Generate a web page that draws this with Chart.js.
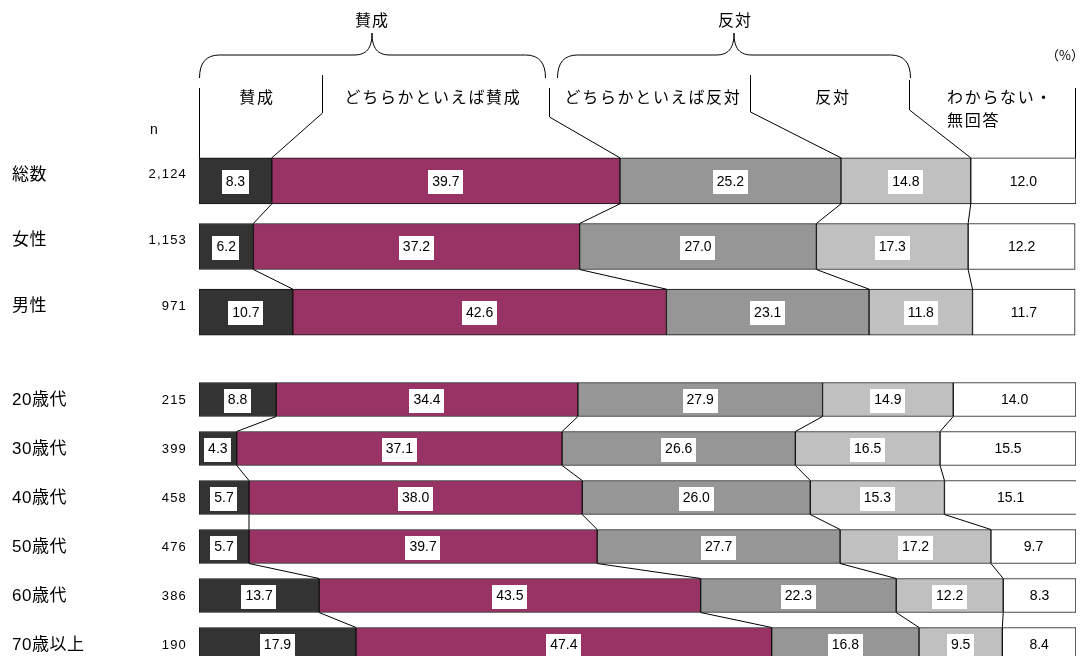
<!DOCTYPE html>
<html lang="ja">
<head>
<meta charset="utf-8">
<script src="https://cdn.jsdelivr.net/npm/chart.js@4.4.0/dist/chart.umd.min.js"></script>
<style>
  html, body { margin: 0; padding: 0; background: #fff; overflow: hidden; }
  #wrap { position: relative; width: 1085px; height: 656px; }
  #topBox { position: absolute; left: 0; top: 0; width: 1085px; height: 350px; }
  #ageBox { position: absolute; left: 0; top: 360px; width: 1085px; height: 310px; }
</style>
</head>
<body>
<div id="wrap">
  <div id="topBox"><canvas id="topChart"></canvas></div>
  <div id="ageBox"><canvas id="ageChart"></canvas></div>
</div>
<script>
// 系列
const seriesNames = ['賛成', 'どちらかといえば賛成', 'どちらかといえば反対', '反対', 'わからない・無回答'];
const seriesColors = ['#333333', '#993366', '#969696', '#c0c0c0', '#ffffff'];
const groupNames = ['賛成', '反対'];

// 総数・性別
const topCategories = ['総数', '女性', '男性'];
const topCounts = ['2,124', '1,153', '971'];
const topAgree = [8.3, 6.2, 10.7];
const topRatherAgree = [39.7, 37.2, 42.6];
const topRatherOppose = [25.2, 27.0, 23.1];
const topOppose = [14.8, 17.3, 11.8];
const topUnknown = [12.0, 12.2, 11.7];

// 年代別
const ageCategories = ['20歳代', '30歳代', '40歳代', '50歳代', '60歳代', '70歳以上'];
const ageCounts = ['215', '399', '458', '476', '386', '190'];
const ageAgree = [8.8, 4.3, 5.7, 5.7, 13.7, 17.9];
const ageRatherAgree = [34.4, 37.1, 38.0, 39.7, 43.5, 47.4];
const ageRatherOppose = [27.9, 26.6, 26.0, 27.7, 22.3, 16.8];
const ageOppose = [14.9, 16.5, 15.3, 17.2, 12.2, 9.5];
const ageUnknown = [14.0, 15.5, 15.1, 9.7, 8.3, 8.4];

const JP = "'Noto Sans CJK JP', 'Noto Sans', sans-serif";
const NUM = "'Liberation Sans', Arial, sans-serif";

function strokeLine(ctx, x1, y1, x2, y2) {
    ctx.beginPath();
    ctx.moveTo(x1, y1);
    ctx.lineTo(x2, y2);
    ctx.stroke();
}

function drawBrace(ctx, x1, x2, xm, yLine, yEnd, yTip) {
    ctx.beginPath();
    ctx.moveTo(x1, yEnd);
    ctx.quadraticCurveTo(x1, yLine, x1 + 20, yLine);
    ctx.lineTo(xm - 18, yLine);
    ctx.bezierCurveTo(xm - 6, yLine, xm, yLine - 6, xm, yTip);
    ctx.bezierCurveTo(xm, yLine - 6, xm + 6, yLine, xm + 18, yLine);
    ctx.lineTo(x2 - 20, yLine);
    ctx.quadraticCurveTo(x2, yLine, x2, yEnd);
    ctx.stroke();
}

function setSpacing(ctx, px) {
    if ('letterSpacing' in ctx) ctx.letterSpacing = px + 'px';
}

// 見出し（上のグラフだけ）
function drawHeader(chart, metas) {
    const ctx = chart.ctx;
    const area = chart.chartArea;
    const first = metas[0].data[0];
    const barTop = first.y - first.height / 2;

    ctx.strokeStyle = '#000';
    ctx.lineWidth = 1;
    strokeLine(ctx, area.left + 0.5, 88, area.left + 0.5, barTop);
    strokeLine(ctx, area.right - 0.5, 88, area.right - 0.5, barTop);

    const dividers = [
        { x: 322.5, top: 75, knee: 113 },
        { x: 549.5, top: 88, knee: 117 },
        { x: 750.5, top: 75, knee: 112 },
        { x: 909.5, top: 80, knee: 110 }
    ];
    dividers.forEach((d, k) => {
        const end = metas[k].data[0].x;
        ctx.beginPath();
        ctx.moveTo(d.x, d.top);
        ctx.lineTo(d.x, d.knee);
        ctx.lineTo(end, barTop);
        ctx.stroke();
    });

    drawBrace(ctx, 199.5, 545.5, 372, 55, 78, 33);
    drawBrace(ctx, 557.5, 910.5, 734, 55, 78, 33);

    ctx.fillStyle = '#000';
    ctx.textBaseline = 'middle';
    ctx.textAlign = 'center';
    ctx.font = '16px ' + JP;
    setSpacing(ctx, 1);
    ctx.fillText(groupNames[0], 372, 20);
    ctx.fillText(groupNames[1], 735, 20);

    setSpacing(ctx, 1.7);
    ctx.fillText(seriesNames[0], 257, 97);
    ctx.fillText(seriesNames[1], 433, 97);
    ctx.fillText(seriesNames[2], 653, 97);
    ctx.fillText(seriesNames[3], 833, 97);
    ctx.textAlign = 'left';
    const parts = seriesNames[4].split('・');
    ctx.fillText(parts[0] + '・', 947, 97);
    ctx.fillText(parts[1], 947, 120);

    setSpacing(ctx, 0);
    ctx.font = '13px ' + JP;
    ctx.textAlign = 'right';
    ctx.fillText('（%）', 1084, 55);

    ctx.font = '14px ' + NUM;
    ctx.textAlign = 'center';
    ctx.fillText('n', 154, 130);
}

const sheetPlugin = {
    id: 'sheet',
    afterDatasetsDraw(chart, args, opts) {
        const ctx = chart.ctx;
        const metas = seriesNames.map((_, k) => chart.getDatasetMeta(k));
        const rows = chart.data.labels.length;
        ctx.save();

        // 行間の連結線
        ctx.strokeStyle = '#000';
        ctx.lineWidth = 1;
        for (let i = 0; i < rows - 1; i++) {
            for (let k = 0; k < seriesNames.length - 1; k++) {
                const a = metas[k].data[i];
                const b = metas[k].data[i + 1];
                strokeLine(ctx, a.x, a.y + a.height / 2, b.x, b.y - b.height / 2);
            }
        }

        // 値ラベル
        ctx.font = '14px ' + NUM;
        ctx.textAlign = 'center';
        ctx.textBaseline = 'middle';
        metas.forEach((meta, k) => {
            meta.data.forEach((bar, i) => {
                const txt = chart.data.datasets[k].data[i].toFixed(1);
                const cx = (bar.x + bar.base) / 2;
                const w = ctx.measureText(txt).width + 8;
                ctx.fillStyle = '#fff';
                ctx.fillRect(Math.round(cx - w / 2), Math.round(bar.y - 11), Math.round(w), 24);
                ctx.fillStyle = '#000';
                ctx.fillText(txt, cx, bar.y + 1);
            });
        });

        // 左側の項目名と n
        const y = chart.scales.y;
        chart.data.labels.forEach((name, i) => {
            const py = y.getPixelForValue(i) + opts.nameShift;
            ctx.fillStyle = '#000';
            ctx.textAlign = 'left';
            ctx.font = "17px 'Liberation Sans', 'Noto Sans CJK JP', sans-serif";
            setSpacing(ctx, 0.5);
            ctx.fillText(name, 12, py);
            setSpacing(ctx, 1.2);
            ctx.textAlign = 'right';
            ctx.font = '13px ' + NUM;
            ctx.fillText(opts.counts[i], 187, py);
            setSpacing(ctx, 0);
        });

        if (opts.header) drawHeader(chart, metas);
        ctx.restore();
    }
};

function buildChart(canvasId, categories, counts, values, padding, thickness, header, nameShift) {
    return new Chart(document.getElementById(canvasId), {
        type: 'bar',
        data: {
            labels: categories,
            datasets: seriesNames.map((name, k) => ({
                label: name,
                data: values[k],
                backgroundColor: seriesColors[k],
                borderColor: '#111',
                borderWidth: 1,
                borderSkipped: false,
                barThickness: thickness
            }))
        },
        options: {
            indexAxis: 'y',
            responsive: true,
            maintainAspectRatio: false,
            animation: false,
            layout: { padding: padding },
            scales: {
                x: { stacked: true, min: 0, max: 100, display: false },
                y: { stacked: true, display: false }
            },
            plugins: {
                legend: { display: false },
                tooltip: { enabled: false },
                sheet: { counts: counts, header: header, nameShift: nameShift }
            }
        },
        plugins: [sheetPlugin]
    });
}

buildChart('topChart', topCategories, topCounts,
    [topAgree, topRatherAgree, topRatherOppose, topOppose, topUnknown],
    { left: 199, right: 9, top: 148, bottom: 5 }, 46, true, -6);

buildChart('ageChart', ageCategories, ageCounts,
    [ageAgree, ageRatherAgree, ageRatherOppose, ageOppose, ageUnknown],
    { left: 199, right: 9, top: 15, bottom: 1 }, 34, false, 1);
</script>
</body>
</html>
